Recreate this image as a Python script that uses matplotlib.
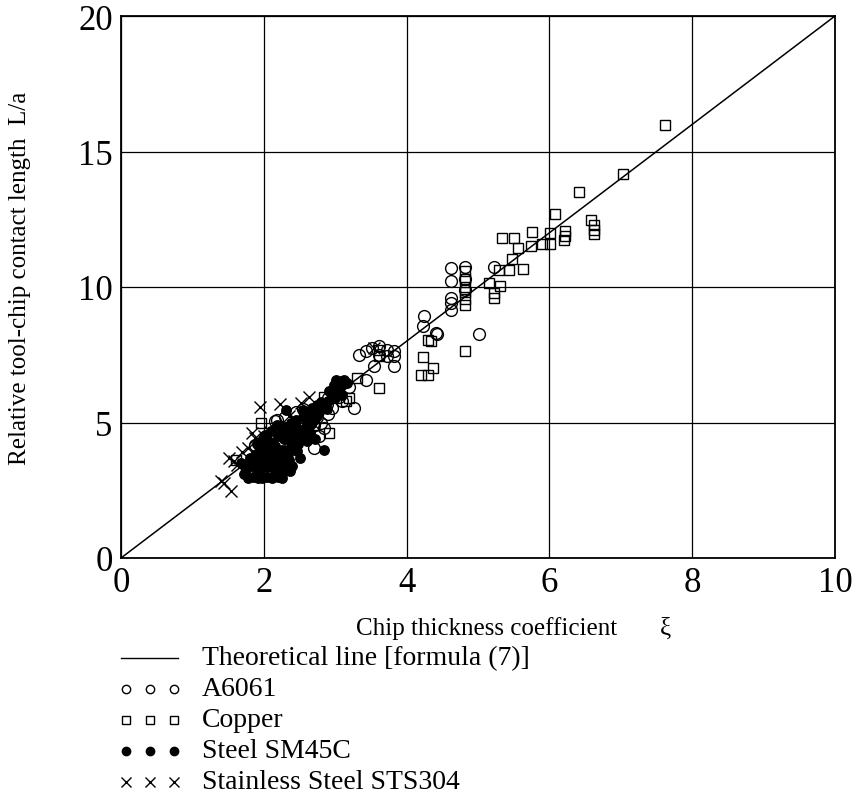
import matplotlib
matplotlib.use("Agg")
import matplotlib.pyplot as plt
from matplotlib.lines import Line2D

plt.rcParams['font.family'] = ['Liberation Serif', 'DejaVu Serif']

# ---------------- data ----------------
theory_x = [0, 10]
theory_y = [0, 20]

a6061_x = [1.87, 2.15, 2.19, 2.71, 2.30, 2.45, 2.55, 2.65, 2.75, 2.80, 2.85, 2.90, 2.90, 2.96,
           3.10, 3.27, 3.43, 3.55, 3.83, 3.34, 3.43, 3.52, 3.62, 3.73, 3.83, 3.62, 3.73, 3.83,
           2.60, 2.70, 2.00, 2.20, 2.40, 2.50, 2.00, 2.10, 3.00, 3.20, 3.10, 2.80,
           2.35, 2.62, 2.88, 3.05, 2.25, 2.52, 1.95, 2.78,
           4.23, 4.41, 4.24, 4.42, 5.02, 4.62, 4.82, 4.62, 5.23, 4.62, 4.62, 4.62, 4.82, 4.82]
a6061_y = [4.18, 5.04, 5.10, 4.06, 5.20, 5.40, 5.50, 5.35, 5.20, 5.00, 4.80, 5.30, 5.90, 5.54,
           5.78, 5.54, 6.58, 7.07, 7.07, 7.50, 7.63, 7.75, 7.81, 7.69, 7.63, 7.50, 7.44, 7.44,
           4.60, 4.90, 4.40, 4.70, 4.90, 4.40, 3.60, 4.00, 6.10, 6.30, 6.50, 5.60,
           4.30, 5.10, 5.70, 5.95, 4.85, 5.00, 3.90, 4.50,
           8.55, 8.30, 8.92, 8.27, 8.27, 10.70, 10.73, 10.23, 10.73, 9.59, 9.41, 9.16, 10.30, 9.90]

copper_x = [1.96, 2.92, 1.61, 3.62, 3.20, 3.15, 3.31, 3.62, 3.62, 4.23, 4.34, 4.30, 4.37, 4.20,
            4.30, 4.82, 4.82, 4.82, 4.82, 4.82, 4.82, 4.82, 5.15, 5.31, 5.22, 5.22, 5.30, 5.44,
            5.63, 5.47, 5.33, 5.51, 5.56, 5.74, 5.89, 6.01, 5.76, 6.01, 6.22, 6.22, 6.21, 6.63,
            6.63, 6.63, 6.58, 6.08, 6.41, 7.03, 7.62, 2.85, 3.00, 2.70, 2.50, 2.30, 2.00]
copper_y = [4.98, 4.61, 3.63, 6.27, 5.90, 5.78, 6.64, 7.69, 7.44, 7.40, 8.02, 8.06, 7.01, 6.77,
            6.77, 7.63, 10.60, 10.30, 10.00, 9.80, 9.55, 9.35, 10.15, 10.02, 9.78, 9.59, 10.64, 10.62,
            10.68, 11.05, 11.80, 11.80, 11.44, 11.50, 11.58, 11.58, 12.04, 11.98, 12.05, 11.89, 11.75, 12.28,
            12.12, 11.96, 12.47, 12.69, 13.52, 14.17, 15.98, 5.95, 6.10, 4.90, 4.95, 4.60, 4.20]

steel_x = [1.72, 1.78, 1.85, 1.92, 1.98, 2.05, 2.12, 2.20, 2.26, 2.36, 1.75, 1.82, 1.90, 1.97,
           2.05, 2.12, 2.20, 2.28, 2.35, 1.80, 1.88, 1.95, 2.02, 2.10, 2.18, 2.25, 2.32, 2.40,
           2.48, 1.90, 1.98, 2.05, 2.12, 2.20, 2.28, 2.35, 2.42, 2.50, 2.58, 2.65, 2.10, 2.18,
           2.26, 2.31, 2.38, 2.45, 2.55, 2.62, 2.70, 2.78, 2.85, 2.72, 2.60, 2.85, 2.90, 2.95,
           3.01, 3.13, 2.99, 3.10, 3.17, 2.97, 3.06, 3.00, 3.10, 2.40, 2.50, 2.30,
           1.68, 1.85, 2.00, 2.15, 2.30, 2.45, 2.55, 2.68, 2.80, 2.92, 1.95, 2.08, 2.22, 2.38,
           2.52, 2.66, 2.75, 2.88, 2.02, 2.16, 2.34, 2.46, 2.60, 2.74]
steel_y = [3.10, 2.95, 3.00, 2.95, 2.95, 3.00, 2.95, 3.00, 2.95, 3.20, 3.30, 3.40, 3.30, 3.50,
           3.35, 3.45, 3.30, 3.50, 3.60, 3.70, 3.80, 3.90, 3.75, 3.90, 3.80, 4.00, 3.90, 4.10,
           4.20, 4.20, 4.30, 4.40, 4.25, 4.50, 4.40, 4.60, 4.50, 4.70, 4.80, 4.60, 4.70, 4.90,
           4.80, 5.47, 5.00, 5.10, 5.20, 5.30, 5.10, 5.40, 4.00, 4.40, 4.30, 5.60, 5.80, 6.00,
           6.58, 6.58, 6.40, 6.40, 6.46, 6.22, 6.22, 5.90, 6.00, 3.40, 3.70, 3.20,
           3.50, 3.55, 4.05, 4.15, 4.75, 4.85, 5.45, 5.55, 5.75, 6.15, 3.25, 3.60, 3.65, 4.25,
           4.45, 4.95, 5.65, 5.50, 4.55, 3.20, 3.85, 3.95, 5.05, 5.25]

sts_x = [1.94, 2.22, 2.52, 2.64, 1.87, 1.84, 1.51, 1.58, 1.63, 1.40, 1.44, 1.54, 1.70,
         1.78, 2.00, 2.08, 2.35, 3.55]
sts_y = [5.57, 5.68, 5.72, 5.93, 4.43, 4.60, 3.69, 3.58, 3.43, 2.83, 2.77, 2.46, 3.90,
         4.05, 4.50, 4.65, 5.25, 7.75]

x_ticks = [0, 2, 4, 6, 8, 10]
y_ticks = [0, 5, 10, 15, 20]

x_label = "Chip thickness coefficient"
x_symbol = "ξ"
y_label = "Relative tool-chip contact length  L/a"
legend_labels = ["Theoretical line [formula (7)]", "A6061", "Copper",
                 "Steel SM45C", "Stainless Steel STS304"]

# ---------------- figure ----------------
W, H = 858, 803
fig = plt.figure(figsize=(W / 100, H / 100), dpi=100)

def fx(px):
    return px / W

def fy(py):
    return 1 - py / H

ax = fig.add_axes([fx(121), fy(559), fx(835) - fx(121), fy(17) - fy(559)])
ax.set_xlim(0, 10)
ax.set_ylim(0, 20)
ax.set_xticks(x_ticks)
ax.set_yticks(y_ticks)
ax.set_xticklabels([str(t) for t in x_ticks])
ax.set_yticklabels([str(t) for t in y_ticks])
ax.tick_params(length=0, labelsize=25, pad=6)
ax.grid(True, color='black', linewidth=0.9)
ax.set_axisbelow(True)
for s in ax.spines.values():
    s.set_linewidth(1.3)

ax.plot(theory_x, theory_y, color='black', linewidth=1.1, zorder=3)

ms_kw = dict(linestyle='none', markeredgecolor='black', markeredgewidth=1.0, zorder=4)
ax.plot(a6061_x, a6061_y, marker='o', markersize=8.5, markerfacecolor='none', **ms_kw)
ax.plot(copper_x, copper_y, marker='s', markersize=7.5, markerfacecolor='none', **ms_kw)
ax.plot(steel_x, steel_y, marker='o', markersize=6.8, markerfacecolor='black', **ms_kw)
ax.plot(sts_x, sts_y, marker='x', markersize=9, color='black', **ms_kw)

# y label
fig.text(fx(20), fy(278), y_label, fontsize=18, rotation=90, ha='center', va='center')

# x label placed below
fig.text(fx(356), fy(629), x_label, fontsize=18, ha='left', va='center')
fig.text(fx(665), fy(629), x_symbol, fontsize=18, ha='center', va='center')

# legend (manual)
rows = [659, 690, 721, 752, 783]
marker_specs = [None,
                dict(marker='o', markersize=6, markerfacecolor='none'),
                dict(marker='s', markersize=5.2, markerfacecolor='none'),
                dict(marker='o', markersize=6, markerfacecolor='black'),
                dict(marker='x', markersize=6.5)]
for r, lab, spec in zip(rows, legend_labels, marker_specs):
    if spec is None:
        fig.lines.append(Line2D([fx(121), fx(178)], [fy(r), fy(r)], color='black',
                                linewidth=1.0, transform=fig.transFigure))
    else:
        for mx in (126, 150, 174):
            fig.lines.append(Line2D([fx(mx)], [fy(r)], linestyle='none', color='black',
                                    markeredgecolor='black', markeredgewidth=1.0,
                                    transform=fig.transFigure, **spec))
    fig.text(fx(202), fy(r), lab, fontsize=20, ha='left', va='center')

fig.savefig("out.png", dpi=100)
